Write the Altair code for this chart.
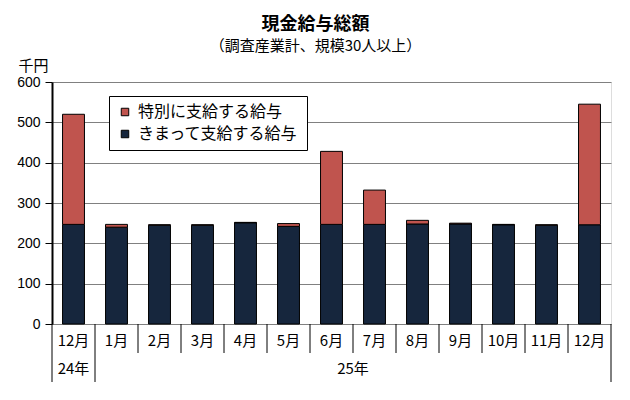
import altair as alt
import pandas as pd

# ---- data ----
keys = ["24年12月", "25年1月", "25年2月", "25年3月", "25年4月", "25年5月", "25年6月",
        "25年7月", "25年8月", "25年9月", "25年10月", "25年11月", "25年12月"]
regular = [247, 240, 245, 245, 251, 242, 247, 247, 248, 248, 246, 245, 246]
special = [273, 7, 1, 1, 1, 7, 181, 85, 9, 2, 1, 1, 299]
series_names = ["特別に支給する給与", "きまって支給する給与"]
series_colors = ["#C0544E", "#16263D"]
y_ticks = [0, 100, 200, 300, 400, 500, 600]
year_24 = ["24年"]
year_25 = ["25年"]

rows = []
for k, r, s in zip(keys, regular, special):
    rows.append({"key": k, "series": series_names[1], "value": r, "ord": 0})
    rows.append({"key": k, "series": series_names[0], "value": s, "ord": 1})
df = pd.DataFrame(rows)

W, H = 559, 242
JP = "Noto Sans CJK JP"

xscale = alt.Scale(domain=keys, paddingInner=0, paddingOuter=0)

bars = alt.Chart(df).mark_bar(
    width=alt.RelativeBandSize(0.51), stroke="black", strokeWidth=1
).encode(
    x=alt.X("key:N", scale=xscale, sort=keys, title=None,
            axis=alt.Axis(labelExpr="split(datum.value,'年')[1]", labelAngle=0,
                          ticks=False, tickSize=0, domain=False, grid=False,
                          labelPadding=16, labelBaseline="middle",
                          labelFontSize=15, labelFont=JP, labelColor="black")),
    y=alt.Y("value:Q", stack="zero", scale=alt.Scale(domain=[0, 600], nice=False),
            axis=alt.Axis(values=y_ticks, title="千円", titleAngle=0, titleAlign="left",
                          titleBaseline="alphabetic", titleX=-34, titleY=-12,
                          titleFontSize=15, titleFont=JP, titleFontWeight="normal",
                          titleColor="black",
                          labelFontSize=14, labelFont="Liberation Sans", labelColor="black",
                          labelPadding=5, tickSize=7, tickColor="black",
                          domainColor="black", domainWidth=2,
                          grid=True, gridColor="#808080", gridWidth=1)),
    color=alt.Color("series:N",
                    scale=alt.Scale(domain=series_names, range=series_colors),
                    legend=alt.Legend(title=None, orient="none", legendX=57, legendY=14,
                                      fillColor="white", strokeColor="black", padding=8,
                                      symbolType="square", symbolSize=56,
                                      symbolStrokeColor="black", symbolStrokeWidth=1,
                                      labelFontSize=16, labelFont=JP, labelColor="black",
                                      labelLimit=400, rowPadding=6, labelOffset=5)),
    order=alt.Order("ord:Q", sort="ascending"),
)

short_df = pd.DataFrame({"key": keys[2:]})
long_start_df = pd.DataFrame({"key": keys[:2]})
long_end_df = pd.DataFrame({"key": keys[-1:]})

short_rules = alt.Chart(short_df).mark_rule(color="black", strokeWidth=1).encode(
    x=alt.X("key:N", bandPosition=0, title=None),
    y=alt.value(H), y2=alt.value(H + 29))
long_rules = alt.Chart(long_start_df).mark_rule(color="black", strokeWidth=1).encode(
    x=alt.X("key:N", bandPosition=0, title=None),
    y=alt.value(H), y2=alt.value(H + 58))
end_rule = alt.Chart(long_end_df).mark_rule(color="black", strokeWidth=1).encode(
    x=alt.X("key:N", bandPosition=1, title=None),
    y=alt.value(H), y2=alt.value(H + 58))

t24 = alt.Chart(pd.DataFrame({"key": keys[:1], "label": year_24})).mark_text(
    fontSize=15, font=JP, baseline="middle", align="center", color="black"
).encode(x=alt.X("key:N", bandPosition=0.5, title=None), y=alt.value(H + 45), text="label:N")
t25 = alt.Chart(pd.DataFrame({"key": keys[7:8], "label": year_25})).mark_text(
    fontSize=15, font=JP, baseline="middle", align="center", color="black"
).encode(x=alt.X("key:N", bandPosition=0, title=None), y=alt.value(H + 45), text="label:N")

chart = alt.layer(bars, short_rules, long_rules, end_rule, t24, t25).properties(
    width=W, height=H,
    title=alt.Title("現金給与総額", subtitle="（調査産業計、規模30人以上）",
                    fontSize=18, font=JP, fontWeight="bold", color="black",
                    subtitleFontSize=15, subtitleFont=JP, subtitleColor="black",
                    anchor="middle", dx=-16, offset=4, subtitlePadding=5),
    autosize=alt.AutoSizeParams(type="none"),
    padding={"left": 44, "top": 74, "right": 11, "bottom": 70},
).configure_view(fill="#F2F0F3", stroke="black", strokeWidth=2
).configure(background="white")

chart.save("out.html", embed_options={"renderer": "svg", "actions": False})
